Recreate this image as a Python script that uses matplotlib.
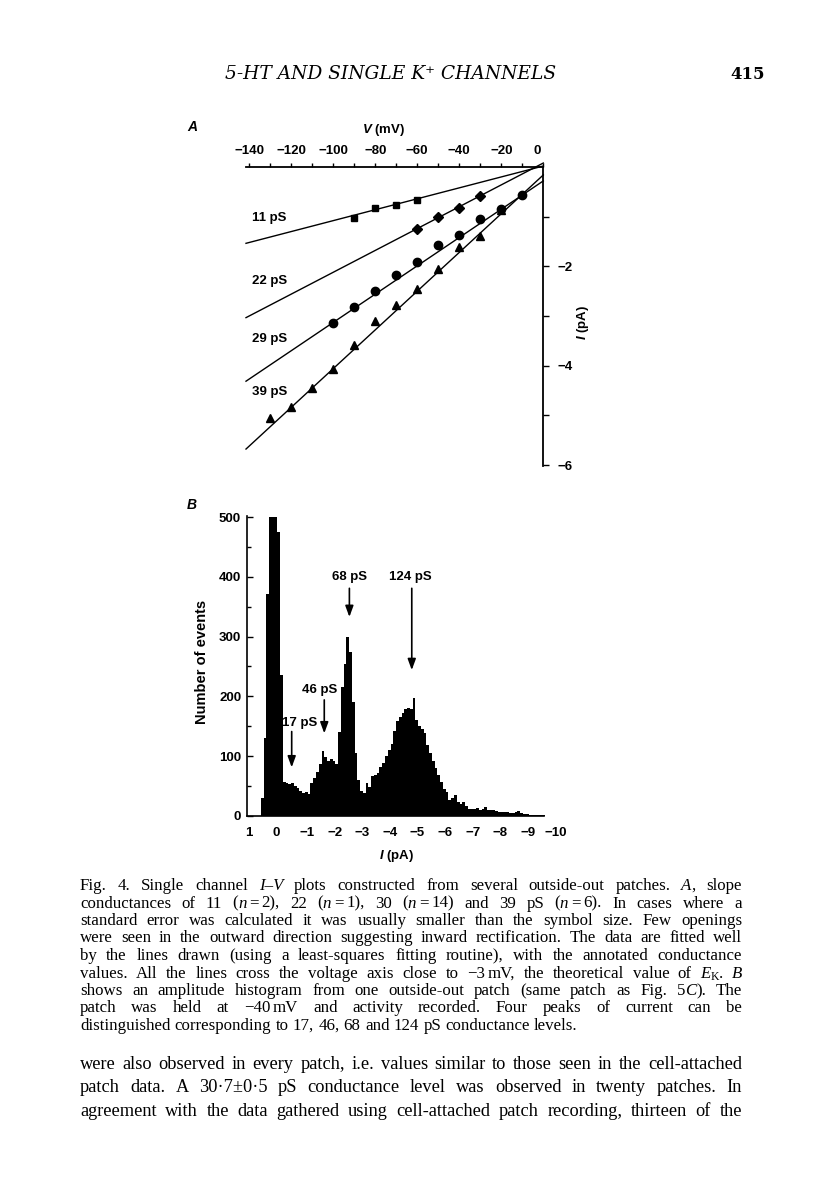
import re
import matplotlib
matplotlib.use('Agg')
import matplotlib.pyplot as plt
import numpy as np
from matplotlib.transforms import ScaledTranslation

W, H = 816, 1200
fig = plt.figure(figsize=(W / 100, H / 100), dpi=100)
fig.patch.set_facecolor('white')
SANS = ['Liberation Sans', 'DejaVu Sans']
SERIF = ['Liberation Serif', 'DejaVu Serif']
plt.rcParams['font.family'] = SANS
plt.rcParams['mathtext.fontset'] = 'custom'
plt.rcParams['mathtext.rm'] = 'Liberation Sans:bold'
plt.rcParams['mathtext.it'] = 'Liberation Sans:italic:bold'
plt.rcParams['axes.unicode_minus'] = True


def fx(px):
    return px / W


def fy(py):
    return 1 - py / H


FS = 9.5

# ---------------- Panel A data ----------------
v_11 = [-90, -80, -70, -60]
i_11 = [-1.02, -0.82, -0.77, -0.67]
v_22 = [-60, -50, -40, -30]
i_22 = [-1.24, -1.01, -0.83, -0.58]
v_29 = [-100, -90, -80, -70, -60, -50, -40, -30, -20, -10]
i_29 = [-3.15, -2.81, -2.50, -2.18, -1.91, -1.58, -1.37, -1.05, -0.84, -0.56]
v_39 = [-130, -120, -110, -100, -90, -80, -70, -60, -50, -40, -30, -20]
i_39 = [-5.05, -4.84, -4.44, -4.06, -3.59, -3.11, -2.78, -2.46, -2.05, -1.61, -1.39, -0.86]
slopes_pS = [11, 22, 28.5, 39]
intercepts_pA = [0.02, 0.08, -0.28, -0.16]
line_labels = ['11 pS', '22 pS', '29 pS', '39 pS']
line_label_I = [-1.02, -2.30, -3.46, -4.54]

# ---------------- Panel B data ----------------
bin_width = 0.1
first_center = 0.5
counts = [30, 130, 372, 500, 500, 500, 475, 235, 57, 55,
          53, 55, 50, 47, 42, 38, 40, 36, 55, 64,
          74, 86, 108, 99, 92, 95, 92, 86, 140, 215,
          255, 300, 275, 190, 105, 60, 42, 38, 55, 48,
          66, 68, 72, 82, 88, 100, 110, 120, 142, 158,
          166, 172, 178, 180, 178, 198, 160, 150, 146, 138,
          118, 105, 92, 80, 68, 57, 45, 40, 26, 30,
          35, 23, 20, 23, 16, 12, 12, 11, 13, 10,
          12, 14, 10, 9, 10, 8, 7, 7, 6, 7,
          5, 5, 6, 8, 5, 3, 3, 2, 2, 1,
          1, 1, 1]
peak_labels = ['17 pS', '46 pS', '68 pS', '124 pS']
peak_arrow_x = [-0.57, -1.75, -2.66, -4.92]
peak_arrow_top = [141, 194, 381, 381]
peak_arrow_tip = [81, 138, 333, 244]
peak_text_x = [-0.87, -1.59, -2.68, -4.88]
peak_text_y = [155, 211, 400, 400]

# ---------------- Panel A ----------------
axA = fig.add_axes([fx(246), fy(466), (543.3 - 246) / W, (466 - 167) / H])
axA.set_facecolor('none')
axA.set_xlim(-141.5, 0)
axA.set_ylim(-6.02, 0)
for s in ['left', 'bottom']:
    axA.spines[s].set_visible(False)
for s in ['top', 'right']:
    axA.spines[s].set_linewidth(1.3)
axA.xaxis.tick_top()
axA.yaxis.tick_right()
xtA = list(range(-140, 1, 20))
axA.set_xticks(xtA)
axA.set_xticks(np.arange(-140, 1, 10), minor=True)
axA.set_yticks([-2, -4, -6])
axA.set_yticks([-1, -3, -5], minor=True)
axA.tick_params(axis='x', which='both', direction='out', length=3, width=1, pad=4, labelsize=FS)
axA.tick_params(axis='y', which='both', direction='out', length=4, width=1, pad=6, labelsize=FS)
axA.set_xticklabels(['\u2212%d' % -v if v < 0 else '0' for v in xtA])
axA.set_yticklabels(['\u22122', '\u22124', '\u22126'])
for lab in axA.get_xticklabels() + axA.get_yticklabels():
    lab.set_fontweight('bold')
# the "0" label sits a little left of its tick in the original
axA.get_xticklabels()[-1].set_transform(axA.get_xticklabels()[-1].get_transform()
                                        + ScaledTranslation(-6 / 100, 0, fig.dpi_scale_trans))

v_line = np.array([-141.5, 0.0])
for g, b in zip(slopes_pS, intercepts_pA):
    axA.plot(v_line, b + g / 1000.0 * v_line, color='k', lw=1.0, clip_on=False)
axA.plot(v_11, i_11, 's', ms=5, color='k', clip_on=False)
axA.plot(v_22, i_22, 'D', ms=4.6, color='k', clip_on=False)
axA.plot(v_29, i_29, 'o', ms=6, color='k', clip_on=False)
axA.plot(v_39, i_39, '^', ms=6, color='k', clip_on=False)
for lab, yv in zip(line_labels, line_label_I):
    axA.text(-138.6, yv, lab, ha='left', va='center', fontsize=FS, weight='bold')

fig.text(fx(384), fy(130), r'$V$ (mV)', ha='center', va='center', fontsize=FS, weight='bold')
fig.text(fx(583), fy(322), r'$I$ (pA)', ha='center', va='center', fontsize=FS, weight='bold', rotation=90)
fig.text(fx(192), fy(127), 'A', ha='center', va='center', fontsize=10, weight='bold', style='italic')

# ---------------- Panel B ----------------
axB = fig.add_axes([fx(246.7), fy(815.7), (552 - 246.7) / W, (815.7 - 516.1) / H])
axB.set_facecolor('none')
axB.set_xlim(1.06, -10)
axB.set_ylim(0, 502)
for s in ['top', 'right']:
    axB.spines[s].set_visible(False)
for s in ['left', 'bottom']:
    axB.spines[s].set_linewidth(1.2)
axB.spines['bottom'].set_bounds(1.06, -9.7)

centers = first_center - bin_width * np.arange(len(counts))
edges = np.append(centers + bin_width / 2, centers[-1] - bin_width / 2)
axB.stairs(np.array(counts)[::-1], edges[::-1], fill=True, color='k', lw=0)

axB.set_yticks(np.arange(0, 501, 100))
axB.set_yticks(np.arange(50, 500, 100), minor=True)
axB.tick_params(axis='y', which='major', direction='in', length=4, width=1, pad=4, labelsize=FS)
axB.tick_params(axis='y', which='minor', direction='in', length=3, width=1)
xt = list(range(1, -11, -1))
axB.set_xticks(xt)
axB.set_xticklabels(['\u2212%d' % -v if v < 0 else str(v) for v in xt])
axB.tick_params(axis='x', which='both', length=0, pad=8, labelsize=FS)
shift = ScaledTranslation(3.5 / 100, 0, fig.dpi_scale_trans)
for v, lab in zip(xt, axB.get_xticklabels()):
    lab.set_fontweight('bold')
    if v < 0:
        lab.set_transform(lab.get_transform() + shift)
for lab in axB.get_yticklabels():
    lab.set_fontweight('bold')

for lab, ax_, top, tip, tx, ty in zip(peak_labels, peak_arrow_x, peak_arrow_top, peak_arrow_tip,
                                      peak_text_x, peak_text_y):
    axB.annotate('', xy=(ax_, tip), xytext=(ax_, top),
                 arrowprops=dict(arrowstyle='-|>,head_length=0.6,head_width=0.22', color='k',
                                 lw=1.2, mutation_scale=11, shrinkA=0, shrinkB=0))
    axB.text(tx, ty, lab, ha='center', va='center', fontsize=FS, weight='bold')

fig.text(fx(201.7), fy(662), 'Number of events', ha='center', va='center', fontsize=10.5,
         weight='bold', rotation=90)
fig.text(fx(397), fy(856), r'$I$ (pA)', ha='center', va='center', fontsize=FS, weight='bold')
fig.text(fx(192), fy(505), 'B', ha='center', va='center', fontsize=10, weight='bold', style='italic')

# ---------------- Page text ----------------
renderer = fig.canvas.get_renderer()


def measure(txt, size, style='normal', weight='normal'):
    t = fig.text(0, 0, txt, fontsize=size, style=style, weight=weight, family=SERIF)
    w = t.get_window_extent(renderer=renderer).width
    t.remove()
    return w


def parse_word(word):
    segs = []
    for m in re.finditer(r'\{([^}]*)\}|_\[([^\]]*)\]|(~)|([^{_~]+)', word):
        if m.group(1) is not None:
            segs.append((m.group(1), 'italic', 'n'))
        elif m.group(2) is not None:
            segs.append((m.group(2), 'normal', 'sub'))
        elif m.group(3) is not None:
            segs.append(('', 'normal', 'thin'))
        else:
            segs.append((m.group(4), 'normal', 'n'))
    return segs


def seg_width(txt, st, kind, size):
    if kind == 'thin':
        return 0.17 * size * 100 / 72
    return measure(txt, size * (0.7 if kind == 'sub' else 1.0), st)


def word_width(segs, size):
    return sum(seg_width(t, s, k, size) for t, s, k in segs)


def space_width(size):
    return measure('a a', size) - measure('aa', size)


def natural_width(line, size):
    words = [parse_word(w) for w in line.split(' ')]
    return sum(word_width(s, size) for s in words) + space_width(size) * (len(words) - 1)


def draw_block(lines, baselines, x0, x1, justify_last, size):
    sp = space_width(size)
    for k, (line, yb) in enumerate(zip(lines, baselines)):
        words = [parse_word(w) for w in line.split(' ')]
        widths = [word_width(s, size) for s in words]
        last = (k == len(lines) - 1)
        if len(words) > 1 and (not last or justify_last):
            gap = (x1 - x0 - sum(widths)) / (len(words) - 1)
        else:
            gap = sp
        x = x0
        for segs, ww in zip(words, widths):
            xs = x
            for txt, st, kind in segs:
                if kind != 'thin':
                    sz = size * (0.7 if kind == 'sub' else 1.0)
                    fig.text(fx(xs), fy(yb + (3 if kind == 'sub' else 0)), txt, fontsize=sz,
                             style=st, family=SERIF, ha='left', va='baseline')
                xs += seg_width(txt, st, kind, size)
            x += ww + gap


caption = [
    'Fig. 4. Single channel {I\u2013V} plots constructed from several outside-out patches. {A}, slope',
    'conductances of 11 ({n}~=~2), 22 ({n}~=~1), 30 ({n}~=~14) and 39 pS ({n}~=~6). In cases where a',
    'standard error was calculated it was usually smaller than the symbol size. Few openings',
    'were seen in the outward direction suggesting inward rectification. The data are fitted well',
    'by the lines drawn (using a least-squares fitting routine), with the annotated conductance',
    'values. All the lines cross the voltage axis close to \u22123~mV, the theoretical value of {E}_[K]. {B}',
    'shows an amplitude histogram from one outside-out patch (same patch as Fig. 5{C}). The',
    'patch was held at \u221240~mV and activity recorded. Four peaks of current can be',
    'distinguished corresponding to 17, 46, 68 and 124 pS conductance levels.',
]
cap_base = [890 + 17.5 * i for i in range(len(caption))]
body = [
    'were also observed in every patch, i.e. values similar to those seen in the cell-attached',
    'patch data. A 30\u00b77\u00b10\u00b75 pS conductance level was observed in twenty patches. In',
    'agreement with the data gathered using cell-attached patch recording, thirteen of the',
]
body_base = [1069, 1092.5, 1116]

cap_size = 0.93 * 10.0 * 0.99 * (742 - 80) / max(natural_width(l, 10.0) for l in caption[:8])
draw_block(caption, cap_base, 80, 742, False, cap_size)
body_size = 0.97 * 10.0 * 0.985 * (742 - 80) / max(natural_width(l, 10.0) for l in body)
draw_block(body, body_base, 80, 742, True, body_size)

# header
HSERIF = ['DejaVu Serif']
t_ = fig.text(0, 0, '5-HT AND SINGLE K\u207a CHANNELS', fontsize=10, style='italic', family=HSERIF)
hw = t_.get_window_extent(renderer=renderer).width
t_.remove()
hs = 10.0 * 332 / hw
fig.text(fx(391), fy(79), '5-HT AND SINGLE K\u207a CHANNELS', fontsize=hs, style='italic',
         family=HSERIF, ha='center', va='baseline')
fig.text(fx(748), fy(79), '415', fontsize=12, weight='bold', family=HSERIF, ha='center', va='baseline')

fig.savefig('out.png', dpi=100, facecolor='white')
